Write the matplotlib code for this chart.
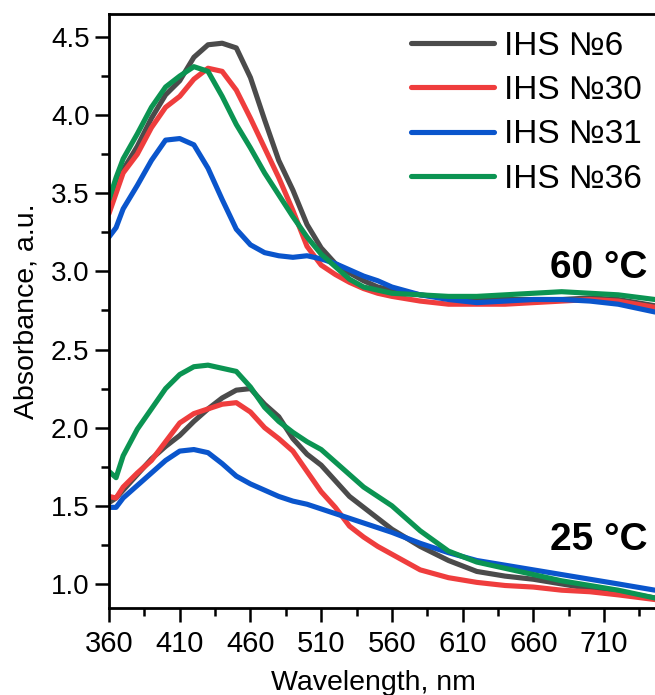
import numpy as np
import matplotlib.pyplot as plt
from matplotlib.ticker import MultipleLocator, FormatStrFormatter

plt.rcParams['font.family'] = ['Liberation Sans', 'DejaVu Sans']

# wavelength grid, nm
wl = [360, 365, 370, 380, 390, 400, 410, 420, 430, 440, 450, 460, 470, 480, 490, 500,
      510, 520, 530, 540, 550, 560, 580, 600, 620, 640, 660, 680, 700, 720, 746]

# 60 °C spectra
ihs6_60 = [3.42, 3.53, 3.65, 3.80, 3.98, 4.13, 4.22, 4.37, 4.45, 4.46, 4.43, 4.24, 3.97, 3.71, 3.52, 3.30,
           3.15, 3.05, 2.99, 2.94, 2.90, 2.88, 2.85, 2.83, 2.82, 2.82, 2.82, 2.82, 2.83, 2.82, 2.78]
ihs30_60 = [3.37, 3.50, 3.63, 3.75, 3.92, 4.05, 4.12, 4.23, 4.30, 4.28, 4.16, 3.98, 3.79, 3.60, 3.39, 3.16,
            3.04, 2.98, 2.93, 2.89, 2.86, 2.84, 2.81, 2.79, 2.79, 2.79, 2.80, 2.81, 2.82, 2.81, 2.77]
ihs31_60 = [3.22, 3.28, 3.40, 3.55, 3.71, 3.84, 3.85, 3.81, 3.66, 3.46, 3.27, 3.17, 3.12, 3.10, 3.09, 3.10,
            3.08, 3.05, 3.01, 2.97, 2.94, 2.90, 2.85, 2.82, 2.80, 2.81, 2.82, 2.82, 2.81, 2.79, 2.74]
ihs36_60 = [3.46, 3.60, 3.72, 3.88, 4.05, 4.18, 4.25, 4.31, 4.28, 4.12, 3.94, 3.79, 3.63, 3.49, 3.35, 3.22,
            3.11, 3.03, 2.95, 2.90, 2.88, 2.86, 2.85, 2.84, 2.84, 2.85, 2.86, 2.87, 2.86, 2.85, 2.82]

# 25 °C spectra
ihs6_25 = [1.52, 1.55, 1.60, 1.70, 1.80, 1.88, 1.95, 2.04, 2.12, 2.19, 2.24, 2.25, 2.15, 2.07, 1.93, 1.83,
           1.76, 1.66, 1.56, 1.49, 1.42, 1.35, 1.24, 1.15, 1.08, 1.05, 1.03, 1.00, 0.97, 0.95, 0.91]
ihs30_25 = [1.56, 1.55, 1.62, 1.71, 1.79, 1.91, 2.03, 2.09, 2.12, 2.15, 2.16, 2.10, 2.00, 1.93, 1.85, 1.72,
            1.59, 1.49, 1.37, 1.30, 1.24, 1.19, 1.09, 1.04, 1.01, 0.99, 0.98, 0.96, 0.95, 0.93, 0.90]
ihs31_25 = [1.49, 1.49, 1.55, 1.63, 1.71, 1.79, 1.85, 1.86, 1.84, 1.77, 1.69, 1.64, 1.60, 1.56, 1.53, 1.51,
            1.48, 1.45, 1.42, 1.39, 1.36, 1.33, 1.26, 1.20, 1.15, 1.12, 1.09, 1.06, 1.03, 1.00, 0.96]
ihs36_25 = [1.72, 1.68, 1.82, 1.99, 2.12, 2.25, 2.34, 2.39, 2.40, 2.38, 2.36, 2.26, 2.13, 2.04, 1.97, 1.91,
            1.86, 1.78, 1.70, 1.62, 1.56, 1.50, 1.34, 1.21, 1.14, 1.10, 1.06, 1.02, 0.99, 0.96, 0.91]

names = ['IHS №6', 'IHS №30', 'IHS №31', 'IHS №36']
colors = ['#4b4b4b', '#ef3d3d', '#0a55cc', '#0b9452']
set60 = [ihs6_60, ihs30_60, ihs31_60, ihs36_60]
set25 = [ihs6_25, ihs30_25, ihs31_25, ihs36_25]

fig = plt.figure(figsize=(6.55, 6.95), dpi=100)
ax = fig.add_axes([109 / 655, 1 - 608 / 695, 546 / 655, 594 / 695])

for y60, y25, c, n in zip(set60, set25, colors, names):
    ax.plot(wl, y60, color=c, lw=3.7, label=n, solid_capstyle='round', solid_joinstyle='round')
    ax.plot(wl, y25, color=c, lw=3.7, solid_capstyle='round', solid_joinstyle='round')

ax.set_xlim(360, 746)
ax.set_ylim(0.846, 4.647)
ax.xaxis.set_major_locator(MultipleLocator(50, offset=10))
ax.xaxis.set_minor_locator(MultipleLocator(25, offset=10))
ax.yaxis.set_major_locator(MultipleLocator(0.5))
ax.yaxis.set_minor_locator(MultipleLocator(0.25))
ax.yaxis.set_major_formatter(FormatStrFormatter('%.1f'))

for s in ['left', 'bottom', 'top']:
    ax.spines[s].set_linewidth(2.0)
ax.spines['right'].set_visible(False)
ax.tick_params(which='major', direction='out', length=10, width=1.8)
ax.tick_params(which='minor', direction='out', length=5.5, width=1.8)
ax.tick_params(axis='x', labelsize=21, pad=6)
ax.tick_params(axis='y', labelsize=20, pad=4)

ax.set_xlabel('Wavelength, nm', fontsize=20.5)
ax.set_ylabel('Absorbance, a.u.', fontsize=20.5)
ax.xaxis.set_label_coords(0.485, -0.105)
ax.yaxis.set_label_coords(-0.128, 0.5)

ax.text(740.5, 3.02, '60 °C', fontsize=28, fontweight='bold', ha='right', va='center')
ax.text(740.5, 1.28, '25 °C', fontsize=28, fontweight='bold', ha='right', va='center')

ax.legend(loc='upper left', bbox_to_anchor=((411 - 109) / 546, 0.972), frameon=False,
          fontsize=24, handlelength=2.5, handletextpad=0.3, labelspacing=0.4,
          borderpad=0, borderaxespad=0)

fig.savefig('out.png', dpi=100)
